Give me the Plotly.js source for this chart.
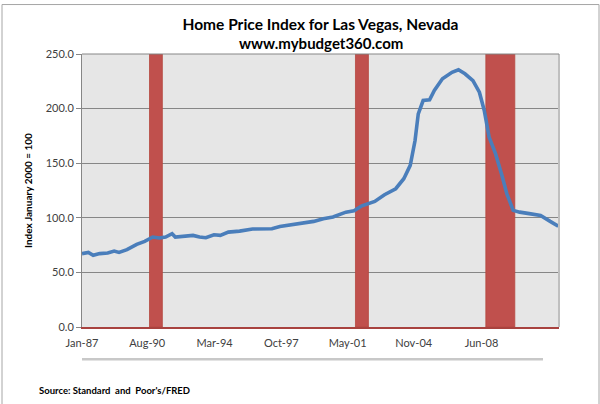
<!DOCTYPE html>
<html>
<head>
<meta charset="utf-8">
<script src="https://cdn.plot.ly/plotly-3.0.1.min.js"></script>
<style>
html,body{margin:0;padding:0;background:#fff;}
#chart{width:600px;height:404px;}
</style>
</head>
<body>
<div id="chart"></div>
<script>
// Home price index (Jan 2000 = 100)
var dates = ['1987-01','1987-05','1987-08','1987-12','1988-05','1988-09','1988-12','1989-05','1989-11','1990-04',
  '1990-09','1991-01','1991-05','1991-09','1991-11','1992-04','1992-10','1993-02','1993-06','1993-11',
  '1994-03','1994-08','1995-03','1995-11','1996-11','1997-04','1997-12','1998-04','1999-01','1999-07',
  '2000-01','2000-09','2001-02','2001-07','2002-03','2002-09','2003-04','2003-09','2004-01','2004-04',
  '2004-06','2004-09','2005-01','2005-04','2005-09','2006-03','2006-07','2006-11','2007-04','2007-08',
  '2007-11','2008-02','2008-06','2008-10','2009-01','2009-05','2009-09','2010-03','2010-10','2011-04','2011-09'];
var hpi = [67.2,68.3,65.6,67.2,67.7,69.5,68.3,70.8,75.7,78.4,
  82.4,81.5,82.4,85.4,82.4,83.0,83.9,82.4,81.8,84.5,
  83.9,86.9,87.8,89.7,90.0,92.1,94.0,95.2,96.7,99.2,
  100.7,105.2,106.5,111.0,115.0,121.1,126.6,135.8,148.0,170.8,
  195.2,207.4,208.0,216.6,227.3,233.3,235.5,231.9,225.7,215.0,
  198.3,173.9,158.7,138.8,122.0,106.8,105.2,103.8,102.2,96.7,92.4];

// Recessions (NBER)
var recStart = ['1990-07-01','2001-03-01','2007-12-01'];
var recEnd   = ['1991-03-01','2001-11-01','2009-06-01'];

// Category labels on the x axis
var tickLabels = ['Jan-87','Aug-90','Mar-94','Oct-97','May-01','Nov-04','Jun-08'];
var tickDates  = ['1987-01-01','1990-05-19','1993-11-13','1997-04-28','2000-10-04','2004-03-07','2007-09-10'];

var yMax = 250;

// plot area geometry in pixels
var W = 600, H = 404, L = 82, R = 41, T = 53.5, B = 77.3;
var pw = W - L - R, ph = H - T - B;
function px(x){ return (x - L) / pw; }
function py(y){ return (H - B - y) / ph; }

var shapes = [];
for (var i = 0; i < recStart.length; i++) {
  shapes.push({type:'rect', xref:'x', yref:'y', x0:recStart[i], x1:recEnd[i], y0:0, y1:yMax,
    fillcolor:'#C0504D', line:{color:'#B5473F', width:0.8}, layer:'between'});
}
// right & top border of plot area
shapes.push({type:'line', xref:'paper', yref:'paper', x0:1, x1:1, y0:0, y1:1, line:{color:'#BFBFBF', width:2}});
shapes.push({type:'line', xref:'paper', yref:'paper', x0:0, x1:1, y0:1, y1:1, line:{color:'#868686', width:1}});
// light rule under the labels
shapes.push({type:'line', xref:'paper', yref:'paper', x0:px(82), x1:px(543), y0:py(359), y1:py(359), line:{color:'#C8C8C8', width:2.5}});
// chart frame
shapes.push({type:'rect', xref:'paper', yref:'paper', x0:px(2), x1:px(599), y0:py(420), y1:py(4), line:{color:'#A6A6A6', width:1}, fillcolor:'rgba(0,0,0,0)'});

var trace = {
  x: dates, y: hpi, type:'scatter', mode:'lines',
  line:{color:'#4A7EBB', width:3.6}, hoverinfo:'skip'
};

var font = 'Lato, "Open Sans", "DejaVu Sans", sans-serif';

var layout = {
  width: W, height: H,
  margin:{l:L, r:R, t:T, b:B, pad:0},
  paper_bgcolor:'#FFFFFF', plot_bgcolor:'#E6E6E6',
  showlegend:false,
  font:{family:font, color:'#404040', size:11},
  title:{text:'<b>Home Price Index for Las Vegas, Nevada</b>',
    font:{family:font, size:15.5, color:'#000000'}, x:0.5, xanchor:'center', xref:'paper',
    y:1 - 24.5/H, yref:'container', yanchor:'middle'},
  xaxis:{type:'date', range:['1987-01-01','2011-09-15'], tickmode:'array', tickvals:tickDates, ticktext:tickLabels,
    showgrid:false, zeroline:false, showline:true, linecolor:'#A8423F', linewidth:1.5,
    ticks:'outside', ticklen:5, tickcolor:'rgba(0,0,0,0)', tickfont:{size:11, color:'#404040'}, fixedrange:true},
  yaxis:{range:[0,yMax], dtick:50, tick0:0, tickformat:'.1f', showgrid:true, gridcolor:'#868686', gridwidth:1,
    zeroline:false, showline:true, linecolor:'#868686', linewidth:1, ticks:'outside', ticklen:5, tickcolor:'#868686',
    tickfont:{size:11, color:'#404040'},
    title:{text:'<b>Index January 2000 = 100</b>', font:{size:10, color:'#000000'}, standoff:11}, fixedrange:true},
  shapes: shapes,
  annotations:[
    {text:'<b>www.mybudget360.com</b>', xref:'paper', yref:'paper', x:0.5, y:py(42),
      xanchor:'center', yanchor:'middle', showarrow:false, font:{size:15, color:'#000000'}},
    {text:'<b>Source: Standard  and  Poor\'s/FRED</b>', xref:'paper', yref:'paper', x:px(37), y:py(390),
    xanchor:'left', yanchor:'middle', showarrow:false, font:{size:9.5, color:'#000000'}}]
};

Plotly.newPlot('chart', [trace], layout, {displayModeBar:false, staticPlot:true});
</script>
</body>
</html>
